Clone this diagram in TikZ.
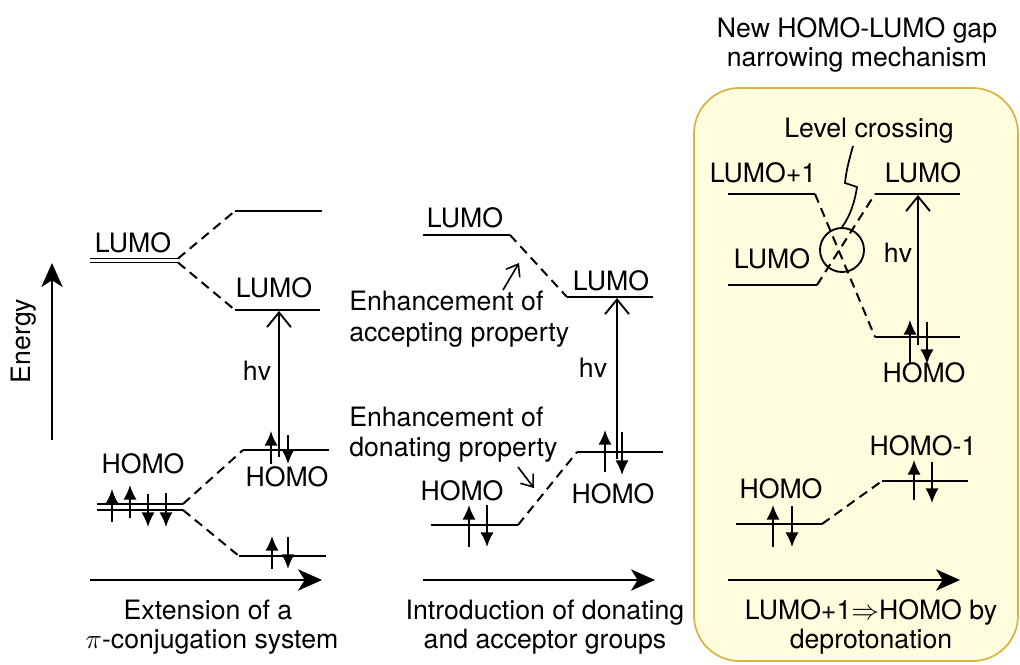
\documentclass[tikz,border=0pt]{standalone}
\usepackage{fontspec}
\setmainfont{TeX Gyre Heros}
\usetikzlibrary{arrows.meta}
\definecolor{boxfill}{RGB}{255,253,222}
\definecolor{boxline}{RGB}{218,180,64}
\begin{document}
\begin{tikzpicture}[x=0.75pt,y=-0.75pt,
  txt/.style={font=\fontsize{20}{24}\selectfont, inner sep=0pt, anchor=base},
  lvl/.style={line width=1.7pt},
  dlvl/.style={line width=1.2pt},
  conn/.style={line width=1.5pt, dash pattern=on 7pt off 4.5pt},
  el/.style={line width=1.5pt, -{Latex[length=11pt,width=10pt]}},
  hvarr/.style={line width=1.4pt, -{Straight Barb[length=11pt,width=18pt,line width=1.4pt]}},
  axis/.style={line width=1.6pt, -{Stealth[length=18pt,width=16pt,inset=5pt]}},
  ptr/.style={line width=1.2pt, -{Straight Barb[length=8pt,width=12pt]}},
  boxst/.style={fill=boxfill, draw=boxline, line width=1.3pt, rounded corners=34pt},
]
\useasboundingbox (0,0) rectangle (1020,664);

% highlighted box
\draw[boxst] (694,88) rectangle (1018,661);
\node[txt] (t1) at (857,37) {New HOMO-LUMO gap};
\node[txt] (t2) at (857,66) {narrowing mechanism};

% energy axis
\coordinate (e0) at (52,440);
\coordinate (e1) at (52,263);
\draw[axis] (e0) -- (e1);
\node[font=\fontsize{20}{24}\selectfont, inner sep=0pt, rotate=90] (energy) at (24,341) {Energy};

% ================= panel 1 =================
\coordinate (p1Lta) at (90,258.5); \coordinate (p1Ltb) at (178,258.5);
\coordinate (p1Lba) at (90,262.5); \coordinate (p1Lbb) at (178,262.5);
\draw[dlvl] (p1Lta) -- (p1Ltb);
\draw[dlvl] (p1Lba) -- (p1Lbb);
\coordinate (p1Ua) at (235,211); \coordinate (p1Ub) at (322,211);
\coordinate (p1Da) at (235,310); \coordinate (p1Db) at (320,310);
\draw[lvl] (p1Ua) -- (p1Ub);
\draw[lvl] (p1Da) -- (p1Db);
\draw[conn] (p1Ltb) -- (p1Ua);
\draw[conn] (p1Lbb) -- (p1Da);
\node[txt] (p1lumoA) at (133,252) {LUMO};
\node[txt] (p1lumoB) at (274,297) {LUMO};

\coordinate (p1Hta) at (97,504); \coordinate (p1Htb) at (183,504);
\coordinate (p1Hba) at (97,510); \coordinate (p1Hbb) at (183,510);
\draw[dlvl] (p1Hta) -- (p1Htb);
\draw[dlvl] (p1Hba) -- (p1Hbb);
\coordinate (p1HUa) at (243,450); \coordinate (p1HUb) at (329,450);
\coordinate (p1HDa) at (239,556); \coordinate (p1HDb) at (326,556);
\draw[lvl] (p1HUa) -- (p1HUb);
\draw[lvl] (p1HDa) -- (p1HDb);
\draw[conn] (p1Htb) -- (p1HUa);
\draw[conn] (p1Hbb) -- (p1HDa);
\node[txt] (p1homoA) at (143,473) {HOMO};
\node[txt] (p1homoB) at (287,486) {HOMO};

% electrons
\draw[el] (112,522) -- (112,489);
\draw[el] (130,518) -- (130,485);
\draw[el] (148,494) -- (148,527);
\draw[el] (166,493) -- (166,527);
\draw[el] (271,464) -- (271,431);
\draw[el] (288,435) -- (288,464);
\draw[el] (272,569) -- (272,536);
\draw[el] (288,537) -- (288,569);

% hv
\coordinate (p1hv0) at (279,457); \coordinate (p1hv1) at (279,311);
\draw[hvarr] (p1hv0) -- (p1hv1);
\node[txt] (p1hv) at (257,380) {hv};

\coordinate (p1x0) at (90,580); \coordinate (p1x1) at (322,580);
\draw[axis] (p1x0) -- (p1x1);
\node[txt] (p1c1) at (208,619) {Extension of a};
\node[txt] (p1c2) at (212,648) {$\pi$-conjugation system};

% ================= panel 2 =================
\coordinate (p2Ua) at (423,235); \coordinate (p2Ub) at (510,235);
\coordinate (p2Da) at (567,297); \coordinate (p2Db) at (653,297);
\draw[lvl] (p2Ua) -- (p2Ub);
\draw[lvl] (p2Da) -- (p2Db);
\draw[conn] (p2Ub) -- (p2Da);
\node[txt] (p2lumoA) at (465,227) {LUMO};
\node[txt] (p2lumoB) at (611,290) {LUMO};

\node[txt, anchor=base west] (p2acc1) at (349,310) {Enhancement of};
\node[txt, anchor=base west] (p2acc2) at (349,341) {accepting property};
\coordinate (p2ap0) at (503,290); \coordinate (p2ap1) at (519,263);
\draw[ptr] (p2ap0) -- (p2ap1);

\coordinate (p2Ha) at (431,525); \coordinate (p2Hb) at (518,525);
\coordinate (p2HUa) at (577,452); \coordinate (p2HUb) at (663,452);
\draw[lvl] (p2Ha) -- (p2Hb);
\draw[lvl] (p2HUa) -- (p2HUb);
\draw[conn] (p2Hb) -- (p2HUa);
\node[txt] (p2homoA) at (462,500) {HOMO};
\node[txt] (p2homoB) at (613,503) {HOMO};

\node[txt, anchor=base west] (p2don1) at (349,426) {Enhancement of};
\node[txt, anchor=base west] (p2don2) at (349,456) {donating property};
\coordinate (p2dp0) at (518,467); \coordinate (p2dp1) at (534,488);
\draw[ptr] (p2dp0) -- (p2dp1);

\draw[el] (469,547) -- (469,505);
\draw[el] (487,505) -- (487,547);
\draw[el] (605,472) -- (605,430);
\draw[el] (622,432) -- (622,475);

\coordinate (p2hv0) at (617,459); \coordinate (p2hv1) at (617,298);
\draw[hvarr] (p2hv0) -- (p2hv1);
\node[txt] (p2hv) at (593,377) {hv};

\coordinate (p2x0) at (423,580); \coordinate (p2x1) at (655,580);
\draw[axis] (p2x0) -- (p2x1);
\node[txt] (p2c1) at (545,619) {Introduction of donating};
\node[txt] (p2c2) at (545,648) {and acceptor groups};

% ================= panel 3 =================
\node[txt] (p3lc) at (869,137) {Level crossing};
\coordinate (p3L1a) at (728,194); \coordinate (p3L1b) at (815,194);
\coordinate (p3Ra) at (875,194); \coordinate (p3Rb) at (960,194);
\coordinate (p3La) at (728,285); \coordinate (p3Lb) at (817,285);
\coordinate (p3Ha) at (875,337); \coordinate (p3Hb) at (960,337);
\draw[lvl] (p3L1a) -- (p3L1b);
\draw[lvl] (p3Ra) -- (p3Rb);
\draw[lvl] (p3La) -- (p3Lb);
\draw[lvl] (p3Ha) -- (p3Hb);
\draw[conn] (p3L1b) -- (p3Ha);
\draw[conn] (p3Lb) -- (p3Ra);
\node[circle, draw, line width=1.4pt, minimum size=33pt, inner sep=0pt] (cross) at (842,250) {};
\coordinate (sq0) at (853,146);
\draw[line width=1.3pt] (sq0) .. controls (849,160) and (846,172) .. (845,183)
   -- (857,187) .. controls (855,200) and (851,215) .. (cross.north);
\node[txt] (p3lumo1) at (763,182) {LUMO+1};
\node[txt] (p3lumoR) at (923,182) {LUMO};
\node[txt] (p3lumoL) at (772,268) {LUMO};
\node[txt] (p3homo) at (924,382) {HOMO};
\draw[el] (910,363) -- (910,320);
\draw[el] (927,322) -- (927,364);
\coordinate (p3hv0) at (918,345); \coordinate (p3hv1) at (918,195);
\draw[hvarr] (p3hv0) -- (p3hv1);
\node[txt] (p3hv) at (898,262) {hv};

\coordinate (p3Ga) at (736,524); \coordinate (p3Gb) at (822,524);
\coordinate (p3Ka) at (882,481); \coordinate (p3Kb) at (968,481);
\draw[lvl] (p3Ga) -- (p3Gb);
\draw[lvl] (p3Ka) -- (p3Kb);
\draw[conn] (p3Gb) -- (p3Ka);
\node[txt] (p3homoL) at (781,498) {HOMO};
\node[txt] (p3homo1) at (923,455) {HOMO-1};
\draw[el] (773,547) -- (773,505);
\draw[el] (792,506) -- (792,547);
\draw[el] (914,500) -- (914,460);
\draw[el] (932,462) -- (932,503);

\coordinate (p3x0) at (728,580); \coordinate (p3x1) at (960,580);
\draw[axis] (p3x0) -- (p3x1);
\node[txt] (p3c1) at (871,619) {LUMO+1$\Rightarrow$HOMO by};
\node[txt] (p3c2) at (871,648) {deprotonation};
\end{tikzpicture}
\end{document}
